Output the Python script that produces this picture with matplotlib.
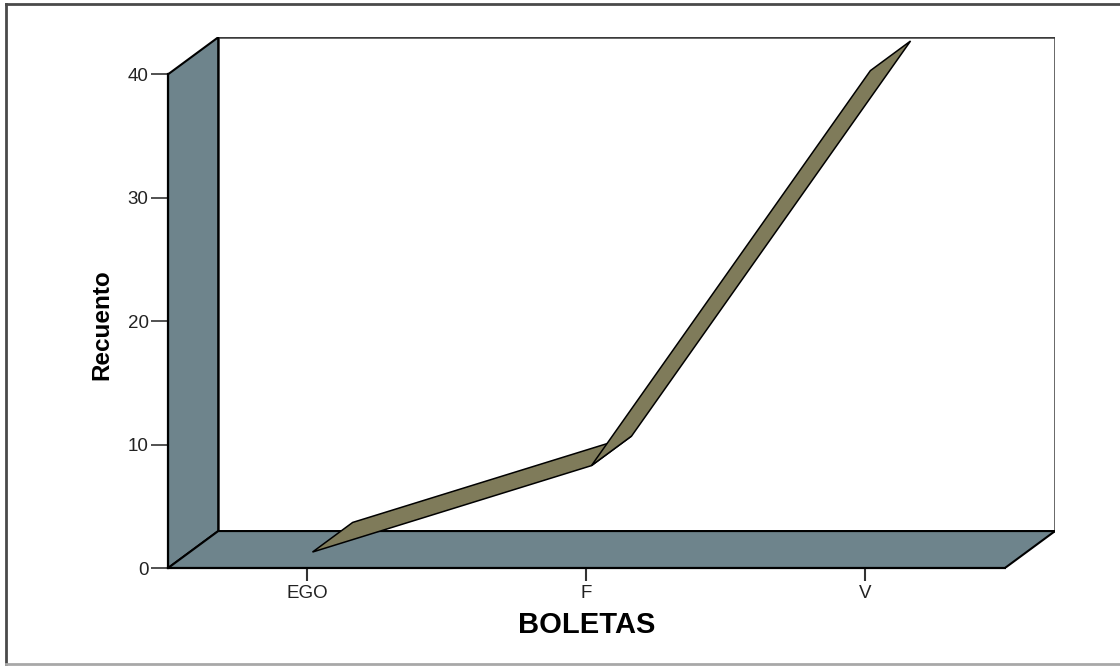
import numpy as np
import matplotlib
matplotlib.use('Agg')
import matplotlib.pyplot as plt
import matplotlib.transforms as mtransforms
from matplotlib.patches import Polygon
from matplotlib.lines import Line2D

# counts per category
categories = ['EGO', 'F', 'V']
counts = [1, 8, 40]
y_ticks = [0, 10, 20, 30, 40]
x_title = 'BOLETAS'
y_title = 'Recuento'

WALL = '#6e848c'
RIBBON = '#7f7b5a'
DEPTH_X = 0.18   # depth offset along x, in category units
DEPTH_Y = 3.0    # depth offset along y, in count units
Y_MAX = 40

plt.rcParams['font.family'] = ['Liberation Sans', 'DejaVu Sans']

fig = plt.figure(figsize=(11.2, 6.66), dpi=100)
ax = fig.add_axes([0.15, 0.147, 0.792, 0.797])

x0 = -0.5
x1 = len(categories) - 0.5
ax.set_xlim(x0, x1 + DEPTH_X)
ax.set_ylim(0, Y_MAX + DEPTH_Y)


def proj(x, y, z):
    # oblique projection: z=0 is the front plane, z=1 the back wall
    return (x + z * DEPTH_X, y + z * DEPTH_Y)


# back wall
back = Polygon([proj(x0, 0, 1), proj(x0, Y_MAX, 1), proj(x1, Y_MAX, 1), proj(x1, 0, 1)],
               closed=True, facecolor='white', edgecolor='#3a3a3a', lw=1.8, zorder=1)
ax.add_patch(back)

# left wall and floor
left_wall = Polygon([proj(x0, 0, 0), proj(x0, Y_MAX, 0), proj(x0, Y_MAX, 1), proj(x0, 0, 1)],
                    closed=True, facecolor=WALL, edgecolor='black', lw=1.5, zorder=2)
floor = Polygon([proj(x0, 0, 0), proj(x1, 0, 0), proj(x1, 0, 1), proj(x0, 0, 1)],
                closed=True, facecolor=WALL, edgecolor='black', lw=1.5, zorder=2)
ax.add_patch(left_wall)
ax.add_patch(floor)

# ribbon line, one slab per segment
xs = np.arange(len(categories))
for i in range(len(categories) - 1):
    seg = Polygon([proj(xs[i], counts[i], 0.1), proj(xs[i + 1], counts[i + 1], 0.1),
                   proj(xs[i + 1], counts[i + 1], 0.9), proj(xs[i], counts[i], 0.9)],
                  closed=True, facecolor=RIBBON, edgecolor='black', lw=1.1,
                  joinstyle='miter', zorder=3 + i)
    ax.add_patch(seg)

for side in ['top', 'right']:
    ax.spines[side].set_visible(False)
ax.spines['left'].set_bounds(0, Y_MAX)
ax.spines['bottom'].set_bounds(x0, x1)
for side in ['left', 'bottom']:
    ax.spines[side].set_linewidth(1.6)
    ax.spines[side].set_zorder(6)

ax.set_xticks(xs, categories)
ax.set_yticks(y_ticks)
ax.tick_params(axis='y', length=12, width=1.2, pad=2, labelsize=13.5,
               color='#333333', labelcolor='#222222')
ax.tick_params(axis='x', length=9, width=1.5, pad=3, labelsize=13.5,
               color='#333333', labelcolor='#222222')

ax.set_xlabel(x_title, fontsize=21, fontweight='bold')
ax.xaxis.set_label_coords(xs.mean(), -0.08,
                          transform=mtransforms.blended_transform_factory(ax.transData, ax.transAxes))
ax.set_ylabel(y_title, fontsize=17.5, fontweight='bold')
ax.yaxis.set_label_coords(-0.062, Y_MAX / 2 - 0.3,
                          transform=mtransforms.blended_transform_factory(ax.transAxes, ax.transData))

# outer frame
fig.add_artist(Line2D([0.005, 0.005], [0.003, 0.994], color='#4a4a4a', lw=2))
fig.add_artist(Line2D([0.005, 1.0], [0.994, 0.994], color='#4a4a4a', lw=2))
fig.add_artist(Line2D([0.005, 1.0], [0.003, 0.003], color='#a8a8a8', lw=2))

fig.savefig('out.png', dpi=100)
